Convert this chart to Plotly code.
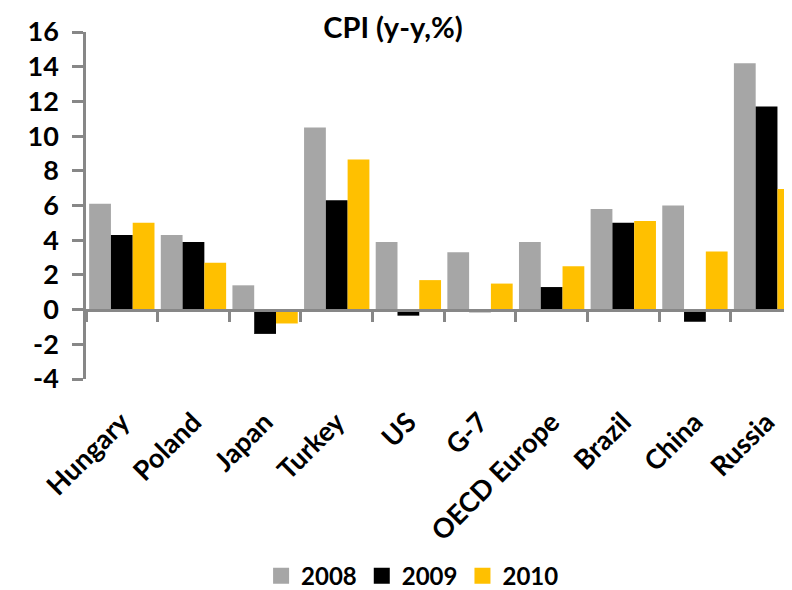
import plotly.graph_objects as go

categories = ["Hungary", "Poland", "Japan", "Turkey", "US", "G-7",
              "OECD Europe", "Brazil", "China", "Russia"]
cpi_2008 = [6.1, 4.3, 1.4, 10.5, 3.9, 3.3, 3.9, 5.8, 6.0, 14.2]
cpi_2009 = [4.3, 3.9, -1.4, 6.3, -0.35, -0.15, 1.3, 5.0, -0.7, 11.7]
cpi_2010 = [5.0, 2.7, -0.8, 8.65, 1.7, 1.5, 2.5, 5.1, 3.35, 6.95]
series_names = ["2008", "2009", "2010"]
series_colors = ["#A6A6A6", "#000000", "#FFC000"]
y_tickvals = [-4, -2, 0, 2, 4, 6, 8, 10, 12, 14, 16]
y_ticktext = ["-4", "-2", "0", "2", "4", "6", "8", "10", "12", "14", "16"]

FONT = "Lato"
AXC = "#878787"

fig = go.Figure()
for name, vals, col in zip(series_names, [cpi_2008, cpi_2009, cpi_2010], series_colors):
    fig.add_trace(go.Bar(x=categories, y=vals, name=name, marker_color=col,
                         marker_line_width=0, showlegend=False, xaxis="x", yaxis="y"))

# invisible trace to carry the category labels on the lower axis
fig.add_trace(go.Scatter(x=categories, y=[0] * len(categories), mode="markers",
                         marker=dict(opacity=0), showlegend=False, hoverinfo="skip",
                         xaxis="x2", yaxis="y"))

# legend proxies
for name, col in zip(series_names, series_colors):
    fig.add_trace(go.Scatter(x=[None], y=[None], mode="markers", name=name,
                             marker=dict(symbol="square", size=16, color=col),
                             xaxis="x", yaxis="y"))

# page body has an 8px default margin, so the figure is 8px smaller than the window
W, H = 784, 582
xr = [-0.5, 9.355]
fig.update_layout(
    width=W, height=H,
    margin=dict(l=78, r=0, t=24, b=211, autoexpand=False),
    paper_bgcolor="white", plot_bgcolor="white",
    font=dict(family=FONT, size=25, color="black", weight="bold"),
    title=dict(text="CPI (y-y,%)", x=385 / W, xanchor="center", y=1 - 19.5 / H,
               yanchor="middle", automargin=False,
               font=dict(family=FONT, size=29, weight="bold")),
    barmode="group", bargap=0.088, bargroupgap=0,
    xaxis=dict(type="category", categoryorder="array", categoryarray=categories,
               range=xr, anchor="free", position=0.2, showline=True, linecolor=AXC,
               linewidth=2.5, ticks="outside", tickson="boundaries", ticklen=11,
               tickwidth=2.5, tickcolor=AXC, showticklabels=False, showgrid=False,
               zeroline=False, automargin=False),
    xaxis2=dict(type="category", categoryorder="array", categoryarray=categories,
                range=xr, overlaying="x", anchor="y", side="bottom", showline=False,
                ticks="", showticklabels=True, tickangle=-45, ticklabelstandoff=21,
                showgrid=False, zeroline=False, automargin=False,
                tickfont=dict(family=FONT, size=27, weight="bold")),
    yaxis=dict(range=[-4, 16], tickvals=y_tickvals, ticktext=y_ticktext,
               showline=True, linecolor=AXC, linewidth=2.5, ticks="outside",
               ticklen=11, tickwidth=2.5, tickcolor=AXC, showgrid=False,
               zeroline=False, ticklabelstandoff=8, automargin=False,
               tickfont=dict(family=FONT, size=27, weight="bold")),
    legend=dict(orientation="h", x=0.248, xanchor="left", y=-0.568, yanchor="middle",
                font=dict(family=FONT, size=24, weight="bold"), itemwidth=30,
                tracegroupgap=0, bgcolor="rgba(0,0,0,0)"),
)

fig.write_html("out.html")
